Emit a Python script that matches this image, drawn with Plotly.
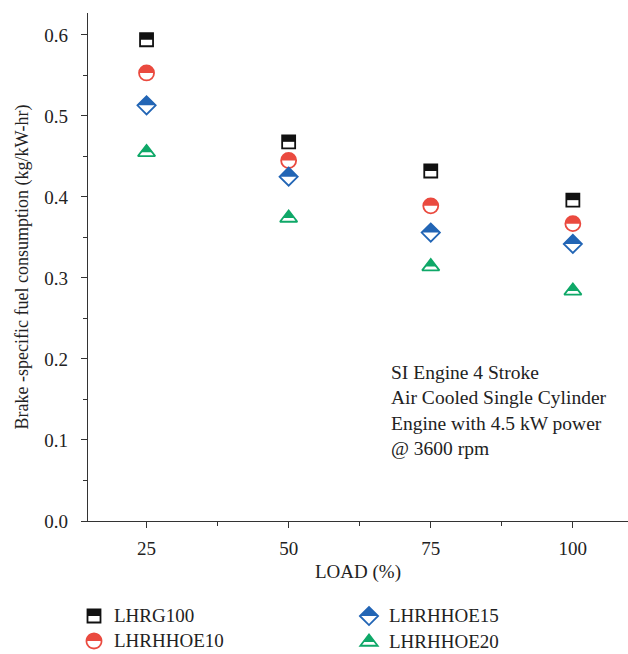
import math
import plotly.graph_objects as go

# ---- data ----
loads = [25, 50, 75, 100]
lhrg100 = [0.594, 0.468, 0.432, 0.396]
lhrhhoe10 = [0.553, 0.445, 0.389, 0.367]
lhrhhoe15 = [0.513, 0.425, 0.356, 0.342]
lhrhhoe20 = [0.455, 0.374, 0.314, 0.284]
series_names = ["LHRG100", "LHRHHOE10", "LHRHHOE15", "LHRHHOE20"]
x_tick_vals = [25, 50, 75, 100]
x_tick_labels = ["25", "50", "75", "100"]
y_tick_vals = [0.0, 0.1, 0.2, 0.3, 0.4, 0.5, 0.6]
y_tick_labels = ["0.0", "0.1", "0.2", "0.3", "0.4", "0.5", "0.6"]
note_lines = ["SI Engine 4 Stroke", "Air Cooled Single Cylinder",
              "Engine with 4.5 kW power", "@ 3600 rpm"]

series_values = [lhrg100, lhrhhoe10, lhrhhoe15, lhrhhoe20]
colors = ["#111111", "#ea4a3f", "#2265b5", "#0fa868"]
kinds = ["square", "circle", "diamond", "triangle"]
symbols = ["square-open", "circle-open", "diamond-open", "triangle-up-open"]
sizes = [13, 15, 14, 15]
FONT = "Liberation Serif"
TXT = "#222222"


def pts_path(pts):
    return "M" + " L".join(f"{x:.2f},{y:.2f}" for x, y in pts) + " Z"


def top_half_path(kind, s):
    h = s / 2.0
    if kind == "square":
        return pts_path([(-h, 0), (h, 0), (h, h), (-h, h)])
    if kind == "circle":
        n = 24
        return pts_path([(h * math.cos(math.pi * i / n), h * math.sin(math.pi * i / n)) for i in range(n + 1)])
    if kind == "diamond":
        rd = 1.3 * h
        return pts_path([(-rd, 0), (rd, 0), (0, rd)])
    rt = h * 2 / math.sqrt(3)
    return pts_path([(-2 * rt / 3, 0), (2 * rt / 3, 0), (0, h)])


def full_path(kind, s):
    h = s / 2.0
    if kind == "square":
        return pts_path([(-h, -h), (h, -h), (h, h), (-h, h)])
    if kind == "circle":
        n = 48
        return pts_path([(h * math.cos(2 * math.pi * i / n), h * math.sin(2 * math.pi * i / n)) for i in range(n)])
    if kind == "diamond":
        rd = 1.3 * h
        return pts_path([(-rd, 0), (0, -rd), (rd, 0), (0, rd)])
    rt = h * 2 / math.sqrt(3)
    return pts_path([(-rt, -h / 2), (rt, -h / 2), (0, h)])


fig = go.Figure()
shapes = []
for name, vals, col, kind, sym, s in zip(series_names, series_values, colors, kinds, symbols, sizes):
    fig.add_trace(go.Scatter(
        x=loads, y=vals, mode="markers", name=name, showlegend=False,
        marker=dict(symbol=sym, size=s, color=col, line=dict(width=1.8, color=col)),
        cliponaxis=False,
    ))
    for xv, yv in zip(loads, vals):
        shapes.append(dict(type="path", xref="x", yref="y", xsizemode="pixel", ysizemode="pixel",
                           xanchor=xv, yanchor=yv, path=top_half_path(kind, s),
                           fillcolor=col, line=dict(width=0, color="rgba(0,0,0,0)"), layer="above"))

# ---- manual legend (below plot) ----
L, R, T, B = 88, 0, 13, 133
W, H = 628, 654
pw, ph = W - L - R, H - T - B
legend_pos = [(94, 616), (94, 641), (369, 616), (369, 642)]
annotations = []
for (px, py), name, col, kind, s in zip(legend_pos, series_names, colors, kinds, sizes):
    xa = (px - L) / pw
    ya = (H - B - py) / ph
    shapes.append(dict(type="path", xref="paper", yref="paper", xsizemode="pixel", ysizemode="pixel",
                       xanchor=xa, yanchor=ya, path=full_path(kind, s),
                       fillcolor="white", line=dict(width=1.8, color=col), layer="above"))
    shapes.append(dict(type="path", xref="paper", yref="paper", xsizemode="pixel", ysizemode="pixel",
                       xanchor=xa, yanchor=ya, path=top_half_path(kind, s),
                       fillcolor=col, line=dict(width=0, color="rgba(0,0,0,0)"), layer="above"))
    annotations.append(dict(xref="paper", yref="paper", x=(px + 18 - L) / pw, y=(H - B - py + 1) / ph,
                            text=name, showarrow=False, xanchor="left", yanchor="middle",
                            font=dict(family=FONT, size=19, color=TXT)))

annotations.append(dict(xref="paper", yref="paper", x=(389 - L) / pw, y=(H - B - 360) / ph,
                        text="<br>".join(note_lines), showarrow=False, xanchor="left", yanchor="top",
                        align="left", font=dict(family=FONT, size=19.5, color=TXT)))

axis_common = dict(showgrid=False, zeroline=False, showline=True, linecolor="#333333", linewidth=1.3,
                   ticks="outside", ticklen=6, tickwidth=1.2, tickcolor="#333333", automargin=False,
                   tickfont=dict(family=FONT, size=19, color=TXT))

fig.update_layout(
    width=W, height=H,
    margin=dict(l=L, r=R, t=T, b=B, pad=0, autoexpand=False),
    paper_bgcolor="white", plot_bgcolor="white",
    showlegend=False,
    hovermode=False,
    xaxis=dict(range=[14.7, 109.7], tickvals=x_tick_vals, ticktext=x_tick_labels, ticklabelstandoff=4,
               minor=dict(dtick=12.5, tick0=12.5, ticks="outside", ticklen=4, tickwidth=1.2, tickcolor="#333333"),
               title=dict(text="LOAD (%)", font=dict(family=FONT, size=19, color=TXT), standoff=6),
               **axis_common),
    yaxis=dict(range=[0, 0.627], tickvals=y_tick_vals, ticktext=y_tick_labels, ticklabelstandoff=9,
               minor=dict(dtick=0.05, tick0=0, ticks="outside", ticklen=4, tickwidth=1.2, tickcolor="#333333"),
               title=dict(text="Brake -specific fuel consumption (kg/kW-hr)",
                          font=dict(family=FONT, size=18, color=TXT), standoff=10),
               **axis_common),
    shapes=shapes,
    annotations=annotations,
)

fig.write_html("out.html", config={"displayModeBar": False},
               post_script="document.body.style.margin='0px';document.body.style.padding='0px';")
